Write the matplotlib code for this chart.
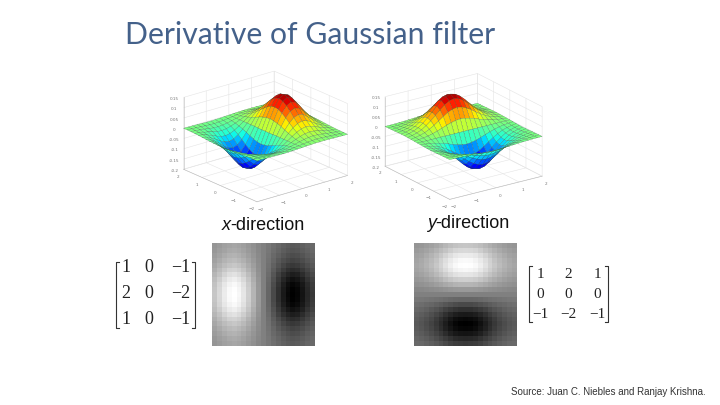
import numpy as np
import matplotlib
matplotlib.use('Agg')
import matplotlib.pyplot as plt

title = 'Derivative of Gaussian filter'
source = 'Source: Juan C. Niebles and Ranjay Krishna.'

# surface samples
grid_pts = [-2.0, -1.8, -1.6, -1.4, -1.2, -1.0, -0.8, -0.6, -0.4, -0.2, 0.0,
            0.2, 0.4, 0.6, 0.8, 1.0, 1.2, 1.4, 1.6, 1.8, 2.0]
lobe = [-0.01, -0.025, -0.05, -0.08, -0.115, -0.145, -0.155, -0.14, -0.105, -0.055, 0.0,
        0.055, 0.105, 0.14, 0.155, 0.145, 0.115, 0.08, 0.05, 0.025, 0.01]
bell = [0.02, 0.05, 0.10, 0.17, 0.28, 0.41, 0.56, 0.72, 0.86, 0.96, 1.0,
        0.96, 0.86, 0.72, 0.56, 0.41, 0.28, 0.17, 0.10, 0.05, 0.02]

# grey levels of the two filter images
shade_lobe = [-0.55, -0.70, -0.85, -0.96, -1.0, -0.93, -0.80, -0.62, -0.42, -0.20, 0.0,
              0.20, 0.42, 0.62, 0.80, 0.93, 1.0, 0.96, 0.85, 0.70, 0.55]
shade_bell = [0.30, 0.34, 0.40, 0.47, 0.56, 0.66, 0.77, 0.87, 0.95, 0.99, 1.0,
              0.99, 0.95, 0.87, 0.77, 0.66, 0.56, 0.47, 0.40, 0.34, 0.30]

xy_ticks = [-2, -1, 0, 1, 2]
z_ticks = [-0.2, -0.15, -0.1, -0.05, 0, 0.05, 0.1, 0.15]
z_labels = ['-0.2', '-0.15', '-0.1', '-0.05', '0', '0.05', '0.1', '0.15']

matrix_x = [['1', '0', '\u22121'], ['2', '0', '\u22122'], ['1', '0', '\u22121']]
matrix_y = [['1', '2', '1'], ['0', '0', '0'], ['\u22121', '\u22122', '\u22121']]


def surface(fig, rect, Z, azim, zoom):
    ax = fig.add_axes(rect, projection='3d', proj_type='ortho')
    ax.patch.set_alpha(0)
    X, Y = np.meshgrid(grid_pts, grid_pts)
    ax.plot_surface(X, Y, Z, cmap='jet', vmin=-0.16, vmax=0.16, rstride=1, cstride=1,
                    edgecolor='#3c5a48', linewidth=0.15, shade=False, antialiased=True)
    ax.view_init(elev=21, azim=azim)
    ax.set_box_aspect((1, 1, 0.66), zoom=zoom)
    ax.set_xticks(xy_ticks)
    ax.set_yticks(xy_ticks)
    ax.set_zticks(z_ticks)
    ax.set_zticklabels(z_labels)
    ax.set_xlim(-2, 2, view_margin=0)
    ax.set_ylim(-2, 2, view_margin=0)
    ax.set_zlim(-0.2, 0.15, view_margin=0)
    ax.tick_params(labelsize=3, colors='#777777', pad=-4, length=0)
    for a in (ax.xaxis, ax.yaxis, ax.zaxis):
        a.set_pane_color((1, 1, 1, 1))
        a.line.set_color('#bbbbbb')
        a.line.set_linewidth(0.4)
        a._axinfo['grid']['color'] = '#e4e4e4'
        a._axinfo['grid']['linewidth'] = 0.4
        a._axinfo['tick']['inward_factor'] = 0
        a._axinfo['tick']['outward_factor'] = 0
    return ax


def filter_image(fig, x, y, w, h, img):
    ax = fig.add_axes([x / 720, 1 - (y + h) / 405, w / 720, h / 405])
    ax.imshow(img, cmap='gray', vmin=0, vmax=1, aspect='auto', interpolation='nearest')
    ax.axis('off')


def matrix(over, rows, cols_x, rows_y, left, right, top, bot, fs):
    for row, yy in zip(rows, rows_y):
        for val, xx in zip(row, cols_x):
            over.text(xx, yy, val, family='Liberation Serif', fontsize=fs, color='#222222',
                      ha='center', va='center')
    for xe, d in ((left, 3), (right, -3)):
        over.plot([xe + d, xe, xe, xe + d], [top, top, bot, bot], color='#333333', lw=0.8)


fig = plt.figure(figsize=(7.2, 4.05), dpi=100)

Z1 = np.outer(bell, lobe)
Z2 = np.outer(lobe, bell)
surface(fig, [158 / 720, 1 - 234 / 405, 210 / 720, 190 / 405], Z1, -129, 0.93)
surface(fig, [356 / 720, 1 - 234 / 405, 210 / 720, 190 / 405], Z2, -125, 0.9)

img_x = 0.5 - 0.5 * np.outer(shade_bell, shade_lobe)
img_y = 0.5 - 0.5 * np.outer(shade_lobe, shade_bell)
filter_image(fig, 212, 243, 103, 103, img_x)
filter_image(fig, 414, 243, 103, 103, img_y)

over = fig.add_axes([0, 0, 1, 1])
over.set_xlim(0, 720)
over.set_ylim(405, 0)
over.axis('off')
over.patch.set_alpha(0)

over.text(125, 44, title, family='Lato', fontsize=21.7, color='#44618a', ha='left', va='baseline')
over.text(222, 225, 'x', family='Liberation Sans', style='italic', fontsize=13, va='center', ha='left', color='#111111')
over.text(230, 225, '-direction', family='Liberation Sans', fontsize=13, va='center', ha='left', color='#111111')
over.text(427, 223, 'y', family='Liberation Sans', style='italic', fontsize=13, va='center', ha='left', color='#111111')
over.text(435, 223, '-direction', family='Liberation Sans', fontsize=13, va='center', ha='left', color='#111111')
over.text(706, 392, source, family='Liberation Sans', fontsize=7, color='#333333', ha='right', va='center')

matrix(over, matrix_x, [126, 149, 181], [268, 293, 319], 116, 195, 262, 328, 13)
matrix(over, matrix_y, [540, 568, 597], [274, 294, 314], 529, 608, 266, 322, 11)

fig.savefig('out.png', dpi=100)
